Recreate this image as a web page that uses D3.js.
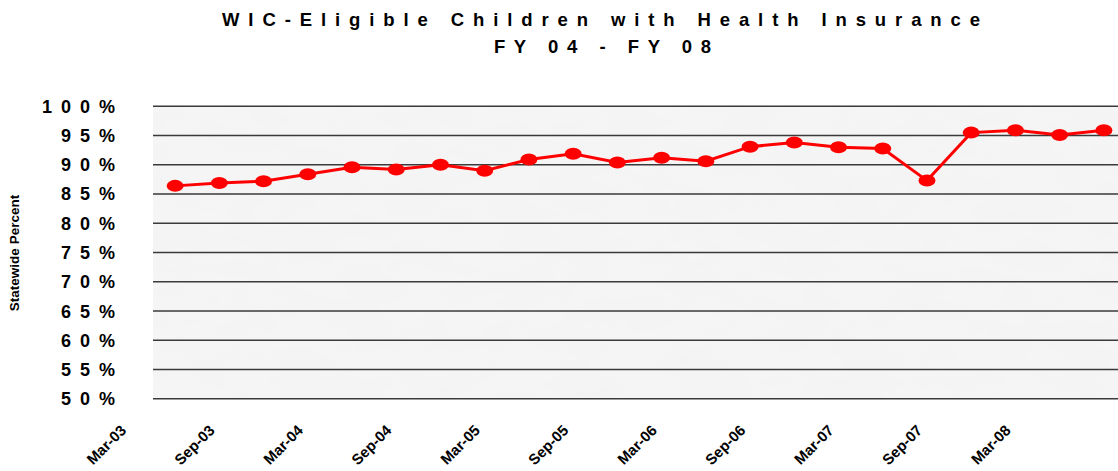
<!DOCTYPE html>
<html>
<head>
<meta charset="utf-8">
<script src="https://cdn.jsdelivr.net/npm/d3@7/dist/d3.min.js"></script>
<style>
body { margin:0; background:#ffffff; }
svg { display:block; font-family: "Liberation Sans", Arial, sans-serif; }
.title { font-weight:bold; font-size:18.5px; fill:#000; }
.ytick text { font-weight:bold; font-size:18px; letter-spacing:9px; fill:#000; }
.xtick text { font-weight:bold; font-size:15px; fill:#000; }
.label { font-weight:bold; font-size:13.5px; fill:#000; }
</style>
</head>
<body>
<svg id="chart"></svg>
<script>

// quarterly categories, Mar-03 .. Jun-08
var quarters = ["Mar-03","Jun-03","Sep-03","Dec-03","Mar-04","Jun-04","Sep-04","Dec-04",
                "Mar-05","Jun-05","Sep-05","Dec-05","Mar-06","Jun-06","Sep-06","Dec-06",
                "Mar-07","Jun-07","Sep-07","Dec-07","Mar-08","Jun-08"]

// statewide percent of WIC-eligible children with health insurance
var insuredPercent = [86.3, 86.8, 87.1, 88.3, 89.5, 89.1, 89.9, 88.9, 90.8, 91.8, 90.3,
                      91.1, 90.5, 93.0, 93.7, 92.9, 92.7, 87.2, 95.4, 95.8, 95.0, 95.8]

var xTickLabels = ["Mar-03","Sep-03","Mar-04","Sep-04","Mar-05","Sep-05",
                   "Mar-06","Sep-06","Mar-07","Sep-07","Mar-08"]

var yTicks = [50,55,60,65,70,75,80,85,90,95,100]

var titleLines = ["WIC-Eligible Children with Health Insurance", "FY 04 - FY 08"]


var initGraph = function()
{
    var screen = {width:1118, height:471}
    var margins = {left:153, right:-8, top:105.7, bottom:72.7}

    var graph =
        {
            width: screen.width - margins.left - margins.right,
            height: screen.height - margins.top - margins.bottom
        }

    var svg = d3.select("#chart")
        .attr("width", screen.width)
        .attr("height", screen.height)

    var xScale = d3.scaleBand()
        .domain(quarters)
        .range([0, graph.width])

    var yScale = d3.scaleLinear()
        .domain([50,100])
        .range([graph.height, 0])

    drawBackground(svg, graph, margins)
    drawAxes(svg, graph, margins, xScale, yScale)

    var target = svg.append("g")
        .attr("transform", "translate(" + margins.left + "," + margins.top + ")")

    drawLine(target, xScale, yScale)
    drawLabels(svg, graph, margins)
}


var drawBackground = function(svg, graph, margins)
{
    var defs = svg.append("defs")
    var filter = defs.append("filter")
        .attr("id", "marble")
        .attr("x", 0).attr("y", 0).attr("width", 1).attr("height", 1)
    filter.append("feTurbulence")
        .attr("type", "fractalNoise")
        .attr("baseFrequency", "0.018 0.04")
        .attr("numOctaves", 3)
        .attr("seed", 4)
    filter.append("feColorMatrix")
        .attr("type", "matrix")
        .attr("values", "0 0 0 0 0.85  0 0 0 0 0.85  0 0 0 0 0.85  0 0 0 0.5 -0.2")
    filter.append("feComposite")
        .attr("in2", "SourceGraphic")
        .attr("operator", "in")

    svg.append("rect")
        .attr("x", margins.left)
        .attr("y", margins.top)
        .attr("width", graph.width)
        .attr("height", graph.height)
        .attr("fill", "#f5f5f5")

    svg.append("rect")
        .attr("x", margins.left)
        .attr("y", margins.top)
        .attr("width", graph.width)
        .attr("height", graph.height)
        .attr("fill", "#000")
        .attr("filter", "url(#marble)")
}


var drawAxes = function(svg, graph, margins, xScale, yScale)
{
    var yAxis = d3.axisLeft(yScale)
        .tickValues(yTicks)
        .tickSize(-graph.width)
        .tickPadding(29)
        .tickFormat(function(d) { return d + "%" })

    var ya = svg.append("g")
        .attr("class", "ytick")
        .attr("transform", "translate(" + margins.left + "," + margins.top + ")")
        .call(yAxis)

    ya.select(".domain").remove()
    ya.selectAll("line")
        .attr("stroke", "#3a3a3a")
        .attr("stroke-width", 1.5)
    ya.selectAll("text")
        .attr("dy", "0.36em")

    var xAxis = d3.axisBottom(xScale)
        .tickValues(xTickLabels)
        .tickSize(0)

    var xa = svg.append("g")
        .attr("class", "xtick")
        .attr("transform", "translate(" + margins.left + "," + (margins.top + graph.height) + ")")
        .call(xAxis)

    xa.select(".domain").remove()
    xa.selectAll("text")
        .attr("x", 0)
        .attr("y", 0)
        .attr("dy", 0)
        .attr("text-anchor", "end")
        .attr("transform", "translate(-48,33) rotate(-45)")
}


var drawLine = function(target, xScale, yScale)
{
    var cx = function(d, i) { return xScale(quarters[i]) + xScale.bandwidth() / 2 }

    var line = d3.line()
        .x(cx)
        .y(function(d) { return yScale(d) })

    target.append("path")
        .datum(insuredPercent)
        .attr("d", line)
        .attr("fill", "none")
        .attr("stroke", "#ff0000")
        .attr("stroke-width", 3)

    target.selectAll("ellipse")
        .data(insuredPercent)
        .enter()
        .append("ellipse")
        .attr("cx", cx)
        .attr("cy", function(d) { return yScale(d) })
        .attr("rx", 8.5)
        .attr("ry", 6)
        .attr("fill", "#ff0000")
}


var drawLabels = function(svg, graph, margins)
{
    var labels = svg.append("g")

    labels.append("text")
        .text(titleLines[0])
        .classed("title", true)
        .attr("x", 222)
        .attr("y", 26)
        .attr("textLength", 758)
        .attr("lengthAdjust", "spacing")

    labels.append("text")
        .text(titleLines[1])
        .classed("title", true)
        .attr("x", 494)
        .attr("y", 53)
        .attr("textLength", 217)
        .attr("lengthAdjust", "spacing")

    labels.append("g")
        .attr("transform", "translate(19," + 253 + ")")
        .append("text")
        .text("Statewide Percent")
        .classed("label", true)
        .attr("text-anchor", "middle")
        .attr("transform", "rotate(270)")
}

initGraph()

</script>
</body>
</html>
